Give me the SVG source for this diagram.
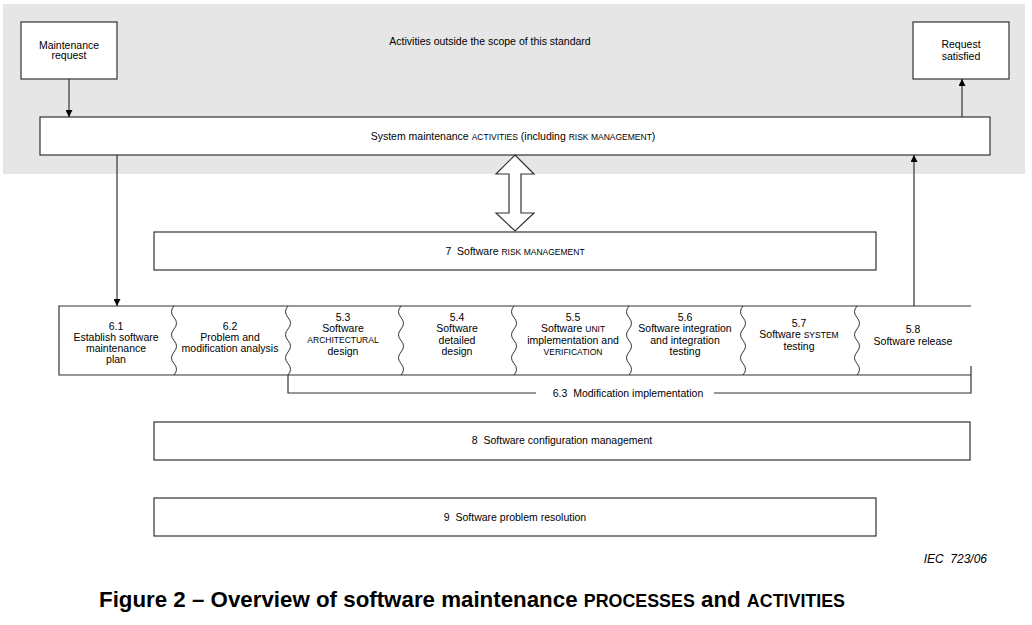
<svg xmlns="http://www.w3.org/2000/svg" width="1032" height="625" viewBox="0 0 1032 625">
<style>
.box{fill:#fff;stroke:#333;stroke-width:1.2}
.t{font-family:"Liberation Sans",Arial,sans-serif;font-size:10.5px;fill:#000;text-anchor:middle;white-space:pre}
.sc{font-size:8.5px}
.ln{fill:none;stroke:#333;stroke-width:1.2}
.wave{fill:none;stroke:#333;stroke-width:1}
</style>
<defs>
<marker id="ah" viewBox="0 0 10 10" refX="10" refY="5" markerWidth="7" markerHeight="7" markerUnits="userSpaceOnUse" orient="auto">
<path d="M0,0 L10,5 L0,10 z" fill="#000"/>
</marker>
<path id="wv" class="wave" d="M0,306 q-5,5.75 0,11.5 q5,5.75 0,11.5 q-5,5.75 0,11.5 q5,5.75 0,11.5 q-5,5.75 0,11.5 q5,5.75 0,11.5"/>
</defs>
<rect x="3" y="4" width="1022" height="170" fill="#e6e6e6"/>
<text class="t" x="490" y="45">Activities outside the scope of this standard</text>
<g id="maintenance-request">
<rect class="box" x="21" y="22" width="96" height="57"/>
<text class="t" x="69" y="49">Maintenance</text>
<text class="t" x="69" y="59">request</text>
</g>
<g id="request-satisfied">
<rect class="box" x="913" y="22" width="96" height="57"/>
<text class="t" x="961" y="48">Request</text>
<text class="t" x="961" y="60">satisfied</text>
</g>
<g id="system-maintenance">
<rect class="box" x="40" y="117" width="950" height="38"/>
<text class="t" x="513" y="140">System maintenance <tspan class="sc">ACTIVITIES</tspan> (including <tspan class="sc">RISK MANAGEMENT</tspan>)</text>
</g>
<g id="risk-management">
<rect class="box" x="154" y="232" width="722" height="38"/>
<text class="t" x="515" y="255">7  Software <tspan class="sc">RISK MANAGEMENT</tspan></text>
</g>
<g id="process-row">
<path class="ln" d="M971,306 H59 V375 H971 M971,366 V375"/>
<use href="#wv" x="174"/>
<use href="#wv" x="288"/>
<use href="#wv" x="401"/>
<use href="#wv" x="514"/>
<use href="#wv" x="629"/>
<use href="#wv" x="743"/>
<use href="#wv" x="857"/>
</g>
<g id="p61"><text class="t" x="116" y="330">6.1</text><text class="t" x="116" y="341">Establish software</text><text class="t" x="116" y="352">maintenance</text><text class="t" x="116" y="363">plan</text></g>
<g id="p62"><text class="t" x="230" y="330">6.2</text><text class="t" x="230" y="341">Problem and</text><text class="t" x="230" y="352">modification analysis</text></g>
<g id="p53"><text class="t" x="343" y="321">5.3</text><text class="t" x="343" y="332">Software</text><text class="t sc" x="343" y="343">ARCHITECTURAL</text><text class="t" x="343" y="355">design</text></g>
<g id="p54"><text class="t" x="457" y="321">5.4</text><text class="t" x="457" y="332">Software</text><text class="t" x="457" y="344">detailed</text><text class="t" x="457" y="355">design</text></g>
<g id="p55"><text class="t" x="573" y="321">5.5</text><text class="t" x="573" y="332">Software <tspan class="sc">UNIT</tspan></text><text class="t" x="573" y="344">implementation and</text><text class="t sc" x="573" y="355">VERIFICATION</text></g>
<g id="p56"><text class="t" x="685" y="321">5.6</text><text class="t" x="685" y="332">Software integration</text><text class="t" x="685" y="344">and integration</text><text class="t" x="685" y="355">testing</text></g>
<g id="p57"><text class="t" x="799" y="327">5.7</text><text class="t" x="799" y="338">Software <tspan class="sc">SYSTEM</tspan></text><text class="t" x="799" y="350">testing</text></g>
<g id="p58"><text class="t" x="913" y="333">5.8</text><text class="t" x="913" y="345">Software release</text></g>
<g id="modification-implementation">
<path class="ln" d="M288,375 V393 H536 M714,393 H971 V375"/>
<text class="t" x="628" y="397">6.3  Modification implementation</text>
</g>
<g id="config-management">
<rect class="box" x="154" y="422" width="816" height="38"/>
<text class="t" x="562" y="444">8  Software configuration management</text>
</g>
<g id="problem-resolution">
<rect class="box" x="154" y="498" width="722" height="38"/>
<text class="t" x="515" y="521">9  Software problem resolution</text>
</g>
<g id="connectors">
<line class="ln" x1="69" y1="79" x2="69" y2="117" marker-end="url(#ah)"/>
<line class="ln" x1="962" y1="117" x2="962" y2="79" marker-end="url(#ah)"/>
<line class="ln" x1="117" y1="155" x2="117" y2="306" marker-end="url(#ah)"/>
<line class="ln" x1="914" y1="306" x2="914" y2="155" marker-end="url(#ah)"/>
<path d="M515,155 L534,174 L521,174 L521,213 L534,213 L515,231 L496,213 L509,213 L509,174 L496,174 Z" fill="#fff" stroke="#333" stroke-width="1.2"/>
</g>
<text x="987" y="563" font-family="Liberation Sans, Arial, sans-serif" font-size="12" font-style="italic" text-anchor="end" style="white-space:pre">IEC  723/06</text>
<text x="99" y="607" font-family="Liberation Sans, Arial, sans-serif" font-size="22" font-weight="bold" textLength="746" lengthAdjust="spacingAndGlyphs">Figure 2 – Overview of software maintenance <tspan font-size="17.6">PROCESSES</tspan> and <tspan font-size="17.6">ACTIVITIES</tspan></text>
</svg>
